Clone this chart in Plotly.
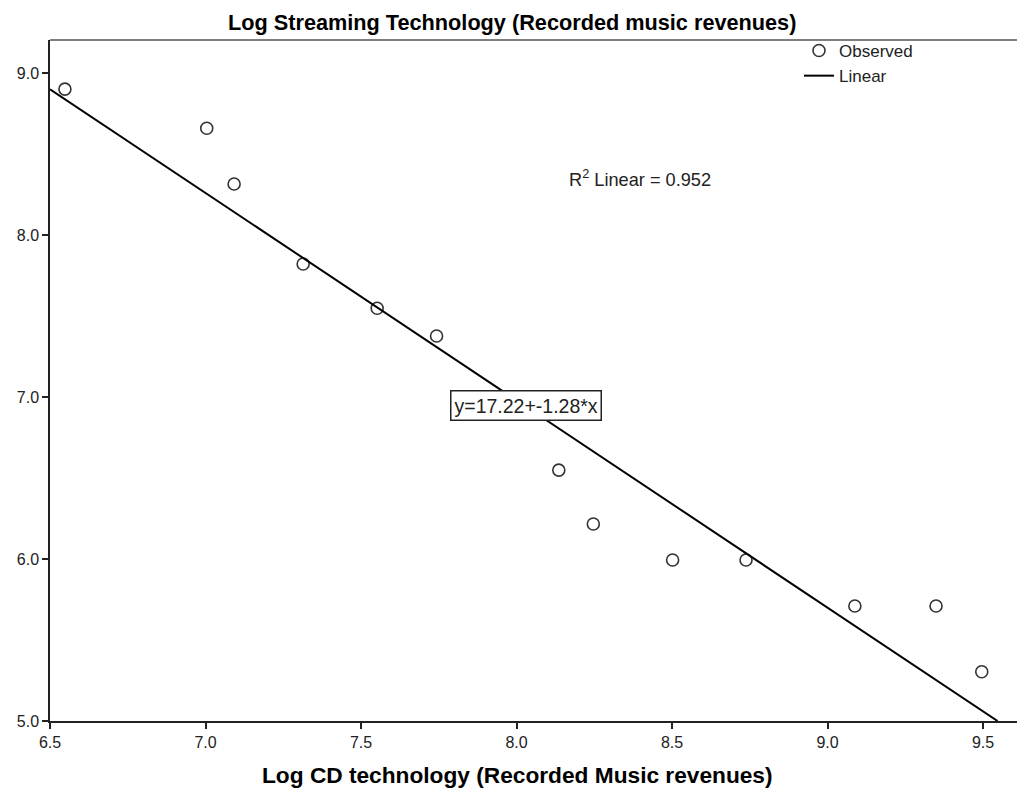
import plotly.graph_objects as go

# Data
log_cd = [6.548, 7.004, 7.092, 7.314, 7.552, 7.743, 8.136, 8.247, 8.502, 8.738, 9.088, 9.349, 9.496]
log_streaming = [8.901, 8.659, 8.315, 7.821, 7.548, 7.377, 6.549, 6.216, 5.994, 5.994, 5.710, 5.710, 5.304]
intercept = 17.22
slope = -1.28
r_squared = 0.952
x_ticks = [6.5, 7.0, 7.5, 8.0, 8.5, 9.0, 9.5]
y_ticks = [5.0, 6.0, 7.0, 8.0, 9.0]

# the html body adds an 8px offset; margins compensate for it
ML, MT, MB, MR = 42, 32, 83, 0
W, H = 1025, 796
PLOT_W = W - ML - MR
PLOT_H = H - MT - MB

X_MIN, X_MAX = 6.5, 6.5 + PLOT_W / 311.0
Y_MIN, Y_MAX = 5.0, 9.204

FONT = "Arial, Liberation Sans, sans-serif"

line_x = [X_MIN, (intercept - Y_MIN) / -slope]
line_y = [intercept + slope * v for v in line_x]

fig = go.Figure()
fig.add_trace(go.Scatter(
    x=log_cd, y=log_streaming, mode="markers", name="Observed",
    marker=dict(symbol="circle-open", size=12, color="#333333", line=dict(width=1.6, color="#333333")),
))
fig.add_trace(go.Scatter(
    x=line_x, y=line_y, mode="lines", name="Linear",
    line=dict(color="black", width=2),
))

fig.update_layout(
    width=W, height=H,
    margin=dict(l=ML, r=MR, t=MT, b=MB, autoexpand=False),
    plot_bgcolor="white", paper_bgcolor="white",
    font=dict(family=FONT, size=16, color="#222222"),
    showlegend=True,
    legend=dict(x=(791 - ML) / PLOT_W, y=1 + 7 / PLOT_H, xanchor="left", yanchor="top",
                bgcolor="rgba(0,0,0,0)", font=dict(size=17, color="#222222"),
                tracegroupgap=0, itemwidth=30),
    xaxis=dict(range=[X_MIN, X_MAX], tickvals=x_ticks, ticktext=[f"{v:.1f}" for v in x_ticks],
               showgrid=False, zeroline=False, showline=True, linecolor="#222222", linewidth=1.5,
               ticks="outside", ticklen=6, tickwidth=1.5, tickcolor="#222222",
               tickfont=dict(size=16, color="#222222"), automargin=False),
    yaxis=dict(range=[Y_MIN, Y_MAX], tickvals=y_ticks, ticktext=[f"{v:.1f}" for v in y_ticks],
               showgrid=False, zeroline=False, showline=True, linecolor="#222222", linewidth=1.5,
               ticks="outside", ticklen=6, tickwidth=1.5, tickcolor="#222222",
               tickfont=dict(size=16, color="#222222"), automargin=False),
)

# top frame line
fig.add_shape(type="line", xref="paper", yref="paper", x0=0, x1=1, y0=1, y1=1,
              line=dict(color="#555555", width=1.5))

# chart title
fig.add_annotation(text="<b>Log Streaming Technology (Recorded music revenues)</b>",
                   xref="paper", yref="paper", x=(504 - ML) / PLOT_W, y=1 + MT / PLOT_H,
                   xanchor="center", yanchor="top", showarrow=False,
                   font=dict(family=FONT, size=21.7, color="black"))
# x-axis title
fig.add_annotation(text="<b>Log CD technology (Recorded Music revenues)</b>",
                   xref="paper", yref="paper", x=(509 - ML) / PLOT_W, y=-(767 - (H - MB)) / PLOT_H,
                   xanchor="center", yanchor="middle", showarrow=False,
                   font=dict(family=FONT, size=22.7, color="black"))
# R squared
fig.add_annotation(text=f"R<sup>2</sup> Linear = {r_squared:.3f}",
                   x=8.162, y=8.35, xanchor="left", yanchor="middle", showarrow=False,
                   font=dict(family=FONT, size=18.2, color="#222222"))
# equation box
fig.add_annotation(text=f"y={intercept:.2f}+{slope:.2f}*x",
                   x=8.03, y=6.95, xanchor="center", yanchor="middle", showarrow=False,
                   bgcolor="white", bordercolor="#222222", borderwidth=1.5, borderpad=3,
                   font=dict(family=FONT, size=19.5, color="#222222"))

fig.write_html("out.html")
